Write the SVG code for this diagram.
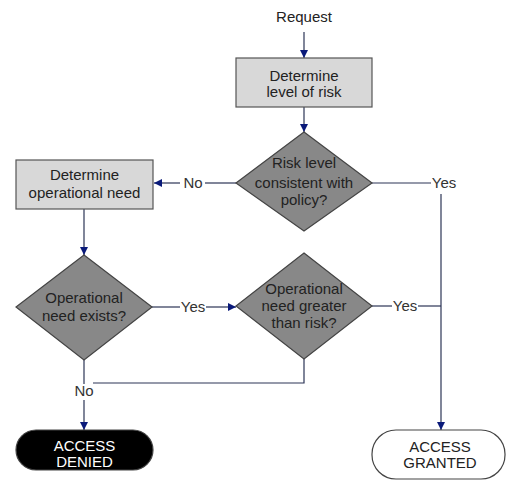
<svg xmlns="http://www.w3.org/2000/svg" width="506" height="481" viewBox="0 0 506 481">
<defs>
<marker id="arr" viewBox="0 0 10 10" refX="10" refY="5" markerWidth="8" markerHeight="8" markerUnits="userSpaceOnUse" orient="auto">
<path d="M0,0 L10,5 L0,10 z" fill="#0a1a7a"/>
</marker>
<style>
text{font-family:"Liberation Sans",Arial,sans-serif;font-size:15px;fill:#222;text-anchor:middle}
.box{fill:#d8d8d8;stroke:#555;stroke-width:1.2}
.dia{fill:#888;stroke:#444;stroke-width:1.2}
.ln{fill:none;stroke:#2c3556;stroke-width:1.2}
.ar{marker-end:url(#arr)}
.lbl{fill:#333}
</style>
</defs>
<rect width="506" height="481" fill="#fff"/>
<g id="connectors">
<line class="ln ar" x1="304" y1="32" x2="304" y2="58"/>
<line class="ln ar" x1="304" y1="107" x2="304" y2="132"/>
<line class="ln" x1="236" y1="183" x2="205" y2="183"/>
<line class="ln ar" x1="180" y1="183" x2="154" y2="183"/>
<text class="lbl" x="193" y="188">No</text>
<line class="ln" x1="372" y1="183" x2="431" y2="183"/>
<text class="lbl" x="444" y="188">Yes</text>
<line class="ln ar" x1="441" y1="194" x2="441" y2="430"/>
<line class="ln ar" x1="84" y1="209" x2="84" y2="255"/>
<line class="ln" x1="152" y1="307" x2="180" y2="307"/>
<line class="ln ar" x1="206" y1="307" x2="236" y2="307"/>
<text class="lbl" x="193" y="312">Yes</text>
<line class="ln" x1="372" y1="306" x2="392" y2="306"/>
<line class="ln" x1="418" y1="306" x2="441" y2="306"/>
<text class="lbl" x="405" y="311">Yes</text>
<polyline class="ln" points="304,359 304,383 93,383"/>
<line class="ln" x1="84" y1="360" x2="84" y2="384"/>
<text class="lbl" x="84" y="396">No</text>
<line class="ln ar" x1="84" y1="400" x2="84" y2="430"/>
</g>
<g id="request"><text x="304" y="22">Request</text></g>
<g id="risk-level">
<rect class="box" x="236" y="58" width="136" height="49"/>
<text x="304" y="81">Determine</text>
<text x="304" y="97">level of risk</text>
</g>
<g id="risk-consistent">
<polygon class="dia" points="304,132 372,183 304,231 236,183"/>
<text x="304" y="168">Risk level</text>
<text x="304" y="188">consistent with</text>
<text x="304" y="205">policy?</text>
</g>
<g id="operational-need">
<rect class="box" x="16" y="160" width="137" height="49"/>
<text x="84.5" y="180">Determine</text>
<text x="84.5" y="198">operational need</text>
</g>
<g id="need-exists">
<polygon class="dia" points="84,255 152,307 84,360 16,307"/>
<text x="84" y="303">Operational</text>
<text x="84" y="321">need exists?</text>
</g>
<g id="need-greater">
<polygon class="dia" points="304,253 372,306 304,359 236,306"/>
<text x="304" y="294">Operational</text>
<text x="304" y="311">need greater</text>
<text x="304" y="328">than risk?</text>
</g>
<g id="access-denied">
<rect x="16" y="430" width="137" height="40" rx="20" ry="20" fill="#000" stroke="#444" stroke-width="1.2"/>
<text x="84.5" y="451" style="fill:#fff">ACCESS</text>
<text x="84.5" y="467" style="fill:#fff">DENIED</text>
</g>
<g id="access-granted">
<rect x="372" y="430" width="133" height="49" rx="24" ry="24" fill="#fff" stroke="#444" stroke-width="1.2"/>
<text x="440" y="452">ACCESS</text>
<text x="440" y="468">GRANTED</text>
</g>
</svg>
